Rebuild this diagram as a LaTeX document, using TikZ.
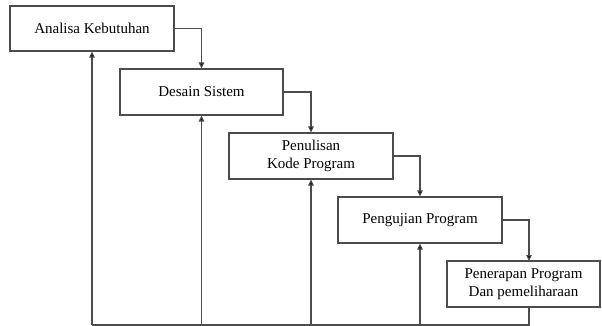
\documentclass[tikz,border=0pt]{standalone}
\usepackage{fontspec}
\setmainfont{Liberation Serif}
\usetikzlibrary{arrows.meta,calc}
\begin{document}
\begin{tikzpicture}[x=1pt,y=-1pt,
  stage/.style={draw=black!70,line width=1.1pt,fill=white,align=center,inner sep=0pt,
    font=\fontsize{15}{18}\selectfont},
  link/.style={draw=black!70,line width=1.1pt},
  arr/.style={link,-{Triangle[length=6pt,width=5.5pt,fill=black]}}]
\useasboundingbox (0,0) rectangle (602,326);
\fill[white] (0,0) rectangle (602,326);
\node[stage,minimum width=164pt,minimum height=45pt] (b1) at (92,28.5) {Analisa Kebutuhan};
\node[stage,minimum width=163pt,minimum height=46pt] (b2) at (201.5,92) {Desain Sistem};
\node[stage,minimum width=164pt,minimum height=46pt] (b3) at (311,156) {Penulisan\\Kode Program};
\node[stage,minimum width=164pt,minimum height=46pt] (b4) at (420,220) {Pengujian Program};
\node[stage,minimum width=153pt,minimum height=46pt] (b5) at (523.5,284) {Penerapan Program\\Dan pemeliharaan};
\coordinate (t5) at (529,261);
\coordinate (s5) at (529,307);
\coordinate (bl) at (92,325);
\coordinate (br) at (529,325);
\draw[arr] (b1.east) -| (b2.north);
\draw[arr] (b2.east) -| (b3.north);
\draw[arr] (b3.east) -| (b4.north);
\draw[arr] (b4.east) -| (t5);
\draw[link] (s5) -- (br) -- (bl);
\draw[arr] (bl) -- (b1.south);
\draw[arr] (b2.south |- bl) -- (b2.south);
\draw[arr] (b3.south |- bl) -- (b3.south);
\draw[arr] (b4.south |- bl) -- (b4.south);
\end{tikzpicture}
\end{document}
